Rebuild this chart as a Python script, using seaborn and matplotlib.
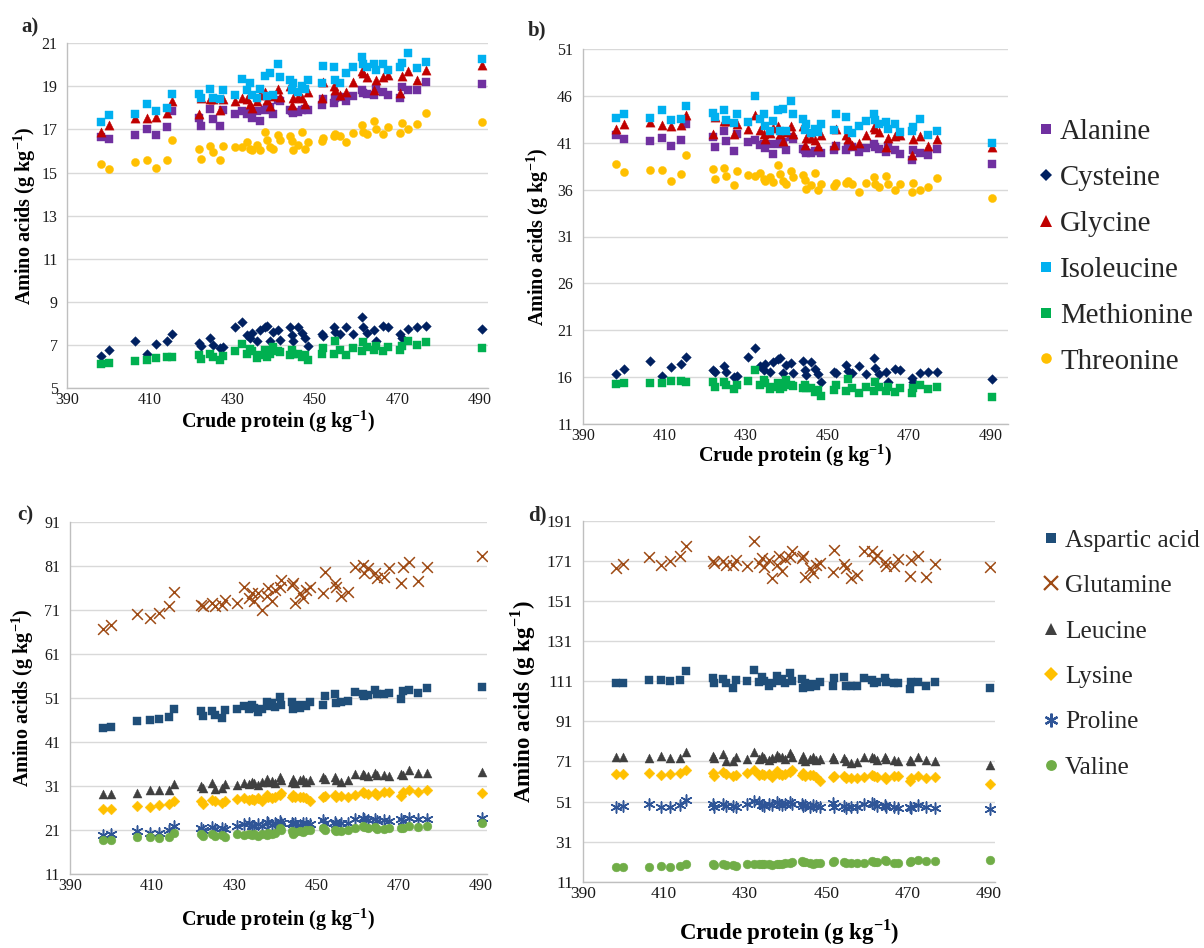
import matplotlib
matplotlib.use("Agg")
import matplotlib.pyplot as plt
from matplotlib.lines import Line2D
from matplotlib.font_manager import FontProperties
import seaborn as sns
import pandas as pd

# ---------------- data ----------------
crude_protein = [398.1, 400.0, 406.4, 409.4, 411.6, 414.1, 415.4, 422.0, 422.3, 424.6,
                 425.2, 427.1, 427.8, 430.6, 432.3, 433.5, 434.3, 434.7, 435.9, 436.7,
                 437.9, 438.3, 439.1, 439.9, 441.1, 441.5, 444.0, 444.4, 444.8, 446.0,
                 446.8, 447.6, 448.4, 451.6, 452.0, 454.5, 454.9, 456.1, 457.6, 459.3,
                 461.3, 461.7, 462.5, 464.4, 464.7, 466.6, 467.8, 470.6, 471.0, 472.6,
                 474.7, 476.9, 490.4]

# panel a (g/kg)
alanine_a = [16.65, 16.55, 16.75, 17.0, 16.75, 17.1, 17.85, 17.55, 17.15, 17.95,
             17.5, 17.15, 17.9, 17.7, 17.85, 17.7, 17.75, 17.55, 17.85, 17.4,
             17.9, 18.0, 18.05, 17.7, 18.35, 18.3, 17.9, 17.85, 17.75, 17.8,
             17.9, 17.95, 17.9, 18.15, 18.4, 18.25, 18.45, 18.5, 18.3, 18.55,
             18.85, 18.7, 18.65, 18.6, 18.9, 18.75, 18.6, 18.45, 18.95, 18.85,
             18.85, 19.2, 19.1]
cysteine_a = [6.5, 6.75, 7.2, 6.6, 7.05, 7.2, 7.5, 7.1, 6.95, 7.3,
              7.0, 6.85, 6.9, 7.85, 8.05, 7.45, 7.3, 7.55, 7.2, 7.7,
              7.85, 7.9, 7.2, 7.6, 7.7, 7.25, 7.85, 7.45, 7.2, 7.85,
              7.55, 7.3, 6.95, 7.5, 7.4, 7.85, 7.6, 7.5, 7.85, 7.5,
              8.3, 7.85, 7.55, 7.7, 7.2, 7.9, 7.85, 7.5, 7.3, 7.75,
              7.85, 7.9, 7.75]
glycine_a = [16.9, 17.2, 17.55, 17.55, 17.6, 17.75, 18.3, 17.7, 18.45, 18.4,
             18.4, 17.9, 18.4, 18.3, 18.45, 18.4, 18.2, 18.0, 18.3, 18.6,
             18.75, 18.35, 18.1, 18.55, 18.9, 18.5, 19.0, 18.15, 18.45, 18.5,
             18.45, 18.2, 18.75, 18.45, 19.2, 19.0, 18.85, 18.6, 18.75, 19.2,
             19.7, 19.6, 19.45, 18.85, 19.3, 19.45, 19.55, 18.7, 19.5, 19.7,
             19.3, 19.75, 20.0]
isoleucine_a = [17.35, 17.65, 17.7, 18.2, 17.85, 18.0, 18.65, 18.65, 18.45, 18.9,
                18.45, 18.4, 18.85, 18.6, 19.35, 18.85, 19.15, 18.6, 18.45, 18.9,
                19.5, 18.55, 19.6, 18.6, 20.05, 19.45, 19.3, 18.85, 19.15, 18.75,
                19.0, 18.9, 19.3, 19.15, 19.95, 19.9, 19.3, 19.15, 19.6, 19.9,
                20.35, 20.05, 19.9, 20.05, 19.75, 20.05, 19.75, 19.9, 20.1, 20.55,
                19.85, 20.15, 20.25]
methionine_a = [6.1, 6.15, 6.25, 6.3, 6.4, 6.45, 6.45, 6.55, 6.35, 6.6,
                6.45, 6.3, 6.5, 6.7, 7.05, 6.6, 6.8, 6.7, 6.4, 6.55,
                6.75, 6.45, 6.6, 6.9, 6.7, 6.65, 6.55, 6.75, 6.6, 6.6,
                6.45, 6.55, 6.3, 6.6, 6.85, 6.6, 7.2, 6.75, 6.55, 6.85,
                6.7, 7.15, 6.9, 6.75, 6.95, 6.7, 6.9, 6.75, 6.95, 7.2,
                7.0, 7.15, 6.85]
threonine_a = [15.4, 15.15, 15.5, 15.6, 15.2, 15.6, 16.5, 16.1, 15.65, 16.25,
               15.95, 15.6, 16.25, 16.2, 16.2, 16.4, 16.1, 16.05, 16.3, 16.05,
               16.9, 16.5, 16.2, 16.1, 16.75, 16.5, 16.7, 16.45, 16.05, 16.3,
               16.9, 16.1, 16.4, 16.45, 16.6, 16.7, 16.8, 16.7, 16.4, 16.85,
               17.2, 16.9, 16.8, 17.4, 17.0, 16.8, 17.1, 16.85, 17.3, 17.0,
               17.25, 17.75, 17.35]

# panel b (g/kg CP)
alanine_b = [41.8, 41.4, 41.2, 41.5, 40.7, 41.3, 43.0, 41.6, 40.6, 42.3,
             41.2, 40.1, 41.9, 41.1, 41.3, 40.8, 40.9, 40.4, 40.9, 39.8,
             40.9, 41.1, 41.1, 40.2, 41.6, 41.4, 40.3, 40.2, 39.9, 39.9,
             40.1, 40.1, 39.9, 40.2, 40.7, 40.2, 40.6, 40.6, 40.0, 40.4,
             40.9, 40.5, 40.3, 40.0, 40.7, 40.2, 39.8, 39.2, 40.2, 39.9,
             39.7, 40.3, 38.7]
cysteine_b = [16.3, 16.9, 17.7, 16.1, 17.1, 17.4, 18.1, 16.8, 16.5, 17.2,
              16.5, 16.0, 16.1, 18.2, 19.1, 17.2, 16.8, 17.4, 16.5, 17.6,
              17.9, 18.0, 16.4, 17.3, 17.5, 16.4, 17.7, 16.8, 16.2, 17.6,
              16.9, 16.3, 15.5, 16.6, 16.4, 17.3, 16.7, 16.4, 17.2, 16.3,
              18.0, 17.0, 16.3, 16.6, 15.5, 16.9, 16.8, 15.9, 15.5, 16.4,
              16.5, 16.6, 15.8]
glycine_b = [42.5, 43.0, 43.2, 42.9, 42.8, 42.9, 44.0, 41.9, 43.7, 43.3,
             43.3, 41.9, 43.0, 42.5, 44.0, 42.4, 41.9, 41.4, 42.0, 42.6,
             42.8, 41.9, 41.2, 42.2, 42.8, 41.9, 42.8, 40.8, 41.5, 41.5,
             41.3, 40.7, 41.8, 40.8, 42.5, 41.8, 41.4, 40.8, 41.0, 41.8,
             42.7, 42.5, 42.1, 40.6, 41.5, 41.7, 41.8, 39.7, 41.4, 41.7,
             40.7, 41.4, 40.5]
isoleucine_b = [43.6, 44.1, 43.6, 44.5, 43.4, 43.5, 44.9, 44.2, 43.7, 44.5,
                43.4, 43.1, 44.1, 43.2, 46.0, 43.5, 44.1, 42.8, 42.3, 43.3,
                44.5, 42.3, 44.6, 42.3, 45.5, 44.1, 43.5, 42.4, 43.0, 42.0,
                42.5, 42.2, 43.0, 42.4, 44.1, 43.8, 42.4, 42.0, 42.8, 43.3,
                44.1, 43.4, 43.0, 43.2, 42.5, 43.0, 42.2, 42.3, 42.7, 43.5,
                41.8, 42.3, 41.0]
methionine_b = [15.3, 15.4, 15.4, 15.4, 15.6, 15.6, 15.5, 15.5, 15.0, 15.5,
                15.2, 14.7, 15.2, 15.6, 16.8, 15.2, 15.7, 15.4, 14.7, 15.0,
                15.4, 14.7, 15.0, 15.7, 15.2, 15.1, 14.8, 15.2, 14.8, 14.8,
                14.4, 14.6, 14.0, 14.6, 15.2, 14.5, 15.8, 14.8, 14.3, 14.9,
                14.5, 15.5, 14.9, 14.5, 15.0, 14.4, 14.8, 14.3, 14.8, 15.2,
                14.7, 15.0, 13.9]
threonine_b = [38.7, 37.9, 38.1, 38.1, 36.9, 37.7, 39.7, 38.2, 37.1, 38.3,
               37.5, 36.5, 38.0, 37.6, 37.5, 37.8, 37.1, 36.9, 37.4, 36.8,
               38.6, 37.7, 36.9, 36.6, 38.0, 37.4, 37.6, 37.0, 36.1, 36.5,
               37.8, 36.0, 36.6, 36.4, 36.7, 36.7, 36.9, 36.6, 35.8, 36.7,
               37.3, 36.6, 36.3, 37.5, 36.6, 36.0, 36.6, 35.8, 36.7, 36.0,
               36.3, 37.2, 35.1]

# panel c (g/kg)
aspartic_c = [44.2, 44.5, 45.7, 46.1, 46.2, 46.7, 48.6, 48.0, 47.0, 48.0,
              47.2, 46.5, 48.2, 48.4, 49.1, 48.4, 49.5, 48.7, 47.8, 48.6,
              50.2, 49.1, 49.8, 49.0, 51.2, 49.5, 50.2, 48.4, 49.5, 48.7,
              49.5, 49.2, 50.0, 49.5, 51.4, 51.8, 49.8, 50.0, 50.3, 52.3,
              52.0, 51.4, 51.6, 52.9, 51.8, 52.0, 52.1, 50.8, 52.5, 52.9,
              52.1, 53.3, 53.4]
glutamine_c = [66.7, 67.7, 70.2, 69.2, 70.3, 71.8, 75.0, 72.2, 71.8, 72.6,
               71.8, 72.2, 73.3, 72.6, 76.3, 73.7, 74.8, 73.0, 74.8, 71.1,
               74.1, 76.0, 73.0, 75.6, 76.3, 77.8, 76.7, 77.1, 72.6, 74.8,
               73.7, 75.6, 76.3, 74.8, 79.7, 77.1, 76.3, 74.1, 75.2, 80.8,
               81.2, 79.3, 80.5, 79.3, 78.2, 78.6, 80.5, 77.1, 80.8, 82.0,
               77.5, 80.8, 83.3]
leucine_c = [29.2, 29.2, 29.5, 30.1, 30.0, 30.0, 31.4, 31.0, 30.6, 31.7,
             30.3, 30.5, 31.4, 31.2, 31.6, 31.4, 32.0, 31.6, 31.2, 31.8,
             32.5, 32.0, 32.2, 31.7, 33.1, 32.3, 32.0, 32.7, 31.6, 32.3,
             32.7, 32.0, 32.4, 33.1, 32.6, 33.1, 32.3, 32.0, 32.4, 33.7,
             33.8, 33.5, 33.2, 34.0, 33.5, 33.5, 33.2, 33.8, 33.6, 34.6,
             34.0, 34.0, 34.2]
lysine_c = [25.8, 25.8, 26.5, 26.2, 26.7, 27.0, 27.7, 27.5, 27.0, 27.9,
            27.5, 27.2, 27.5, 28.0, 28.2, 27.9, 28.0, 27.9, 28.2, 27.7,
            29.0, 28.4, 28.2, 28.5, 29.0, 29.4, 28.6, 29.0, 28.4, 28.6,
            28.6, 28.2, 27.5, 28.6, 28.8, 29.0, 28.5, 28.7, 28.6, 29.0,
            29.7, 29.4, 29.2, 29.4, 29.0, 29.7, 29.7, 28.8, 29.6, 30.1,
            29.7, 30.1, 29.5]
proline_c = [19.8, 20.0, 20.8, 20.3, 20.4, 21.0, 22.0, 21.5, 21.0, 21.7,
             21.2, 21.5, 21.3, 22.0, 22.3, 22.5, 22.0, 21.8, 22.3, 22.0,
             22.8, 22.5, 22.2, 22.5, 23.0, 22.6, 22.6, 22.3, 22.6, 22.2,
             22.6, 22.5, 22.3, 23.2, 22.5, 22.8, 22.4, 22.6, 22.7, 23.4,
             23.8, 23.5, 23.2, 23.4, 23.0, 23.2, 23.0, 23.4, 23.1, 23.8,
             23.5, 23.5, 23.8]
valine_c = [18.8, 18.8, 19.5, 19.5, 19.1, 19.5, 20.4, 20.0, 19.6, 20.0,
            19.7, 19.8, 19.5, 20.0, 19.8, 20.0, 19.9, 20.0, 19.7, 20.0,
            19.9, 20.4, 20.0, 20.3, 21.5, 20.9, 20.8, 20.0, 20.5, 20.8,
            20.5, 21.0, 20.9, 21.5, 21.0, 21.0, 20.8, 20.8, 21.1, 21.5,
            22.0, 21.6, 21.4, 21.7, 21.3, 21.3, 21.5, 21.5, 21.4, 22.0,
            21.7, 22.0, 22.5]

# panel d (g/kg CP)
aspartic_d = [110.0, 110.3, 111.5, 111.6, 111.3, 111.8, 116.0, 112.8, 110.3, 112.0,
              110.0, 107.9, 111.7, 111.4, 116.5, 110.7, 113.0, 111.0, 108.7, 110.3,
              113.7, 111.0, 112.4, 110.4, 115.1, 111.1, 112.1, 107.9, 110.3, 108.2,
              109.8, 108.9, 110.5, 108.6, 112.7, 113.0, 108.5, 108.6, 108.9, 112.9,
              111.7, 110.3, 110.6, 112.9, 110.5, 110.4, 110.4, 107.0, 110.5, 110.9,
              108.8, 110.8, 107.9]
glutamine_d = [167.6, 169.3, 172.8, 169.1, 170.8, 173.4, 178.5, 171.1, 170.0, 171.0,
               168.9, 169.0, 171.4, 168.6, 181.0, 170.0, 172.3, 167.9, 171.6, 162.8,
               169.2, 173.4, 166.2, 171.8, 173.0, 176.2, 172.7, 173.5, 163.2, 167.7,
               164.9, 168.9, 170.1, 165.6, 176.3, 169.6, 167.7, 162.4, 164.3, 175.9,
               176.0, 171.8, 174.0, 170.7, 168.3, 168.4, 172.1, 163.8, 171.5, 173.5,
               163.3, 169.4, 168.2]
leucine_d = [73.4, 73.0, 72.6, 73.5, 72.9, 72.5, 75.6, 73.5, 72.5, 74.7,
             71.3, 71.4, 73.4, 72.4, 75.5, 72.4, 73.7, 72.7, 71.6, 72.8,
             74.2, 73.0, 73.3, 72.1, 75.0, 73.2, 72.1, 73.6, 71.0, 72.4,
             73.2, 71.5, 72.3, 73.3, 72.1, 72.8, 71.0, 70.1, 70.8, 73.4,
             73.3, 72.6, 71.8, 73.2, 72.1, 71.8, 71.0, 71.8, 71.3, 73.2,
             71.6, 71.3, 69.0]
lysine_d = [64.8, 64.5, 65.2, 64.0, 64.9, 65.2, 66.7, 65.2, 63.9, 65.7,
            64.7, 63.7, 64.3, 65.0, 66.8, 64.4, 64.5, 64.2, 64.7, 63.4,
            66.2, 64.8, 64.2, 64.8, 65.7, 66.6, 64.4, 65.3, 63.8, 64.1,
            64.0, 63.0, 61.3, 63.3, 63.7, 63.8, 62.6, 62.9, 62.5, 63.1,
            64.4, 63.7, 63.1, 63.3, 62.4, 63.6, 63.5, 61.2, 62.8, 63.7,
            62.6, 63.1, 60.0]
proline_d = [48.4, 48.7, 49.9, 48.3, 48.3, 49.4, 51.7, 49.7, 48.4, 49.8,
             48.6, 49.0, 48.5, 49.8, 51.3, 50.6, 49.4, 48.8, 49.9, 49.1,
             50.8, 50.0, 49.2, 49.8, 50.8, 49.9, 49.6, 48.9, 49.5, 48.5,
             49.3, 49.0, 48.4, 50.1, 48.5, 48.9, 47.9, 48.2, 48.3, 49.6,
             50.3, 49.6, 48.9, 49.1, 48.2, 48.4, 47.9, 48.4, 47.7, 49.1,
             48.2, 48.0, 47.2]
valine_d = [18.2, 18.2, 18.5, 19.0, 18.5, 19.0, 19.8, 19.7, 19.5, 19.7,
            19.3, 19.4, 19.0, 19.7, 19.7, 19.8, 19.7, 19.6, 19.7, 19.5,
            19.8, 20.0, 19.7, 20.2, 20.5, 20.8, 21.5, 20.6, 21.0, 20.5,
            19.8, 20.2, 20.5, 21.0, 21.5, 20.6, 20.5, 20.5, 20.2, 20.5,
            21.5, 21.0, 20.8, 21.8, 21.2, 20.5, 20.5, 21.0, 21.3, 21.8,
            21.5, 21.5, 21.8]

names_top = ["Alanine", "Cysteine", "Glycine", "Isoleucine", "Methionine", "Threonine"]
names_bot = ["Aspartic acid", "Glutamine", "Leucine", "Lysine", "Proline", "Valine"]
x_ticks = [390, 410, 430, 450, 470, 490]

# ---------------- styling ----------------
sns.set_theme(style="white")
SERIF = "Liberation Serif"
plt.rcParams["font.family"] = [SERIF, "DejaVu Serif"]
plt.rcParams["mathtext.fontset"] = "custom"
plt.rcParams["mathtext.rm"] = SERIF
plt.rcParams["mathtext.bf"] = SERIF + ":bold"

STY = {
    "Alanine": ("s", "#7030A0", 32, 0.0),
    "Cysteine": ("D", "#002060", 24, 0.0),
    "Glycine": ("^", "#C00000", 44, 0.0),
    "Isoleucine": ("s", "#00B0F0", 32, 0.0),
    "Methionine": ("s", "#00B050", 32, 0.0),
    "Threonine": ("o", "#FFC000", 34, 0.0),
    "Aspartic acid": ("s", "#1F4E79", 30, 0.0),
    "Glutamine": ("x", "#9E4A14", 60, 1.1),
    "Leucine": ("^", "#404040", 42, 0.0),
    "Lysine": ("D", "#FFC000", 30, 0.0),
    "Proline": ((6, 2, 0), "#2F5597", 64, 1.1),
    "Valine": ("o", "#70AD47", 40, 0.0),
}

W, H = 1204, 948
fig = plt.figure(figsize=(W / 100, H / 100), dpi=100)

def add_ax(l, r, t, b):
    return fig.add_axes([l / W, (H - b) / H, (r - l) / W, (b - t) / H])

ylab = r"Amino acids (g kg$^{\mathbf{-1}}$)"
xlab = r"Crude protein (g kg$^{\mathbf{-1}}$)"

panels = [
    dict(box=(67.3, 488.3, 43.3, 388.0), xlim=(390, 492.0), ylim=(5, 21), yticks=list(range(5, 22, 2)),
         names=names_top, vals=[alanine_a, cysteine_a, glycine_a, isoleucine_a, methionine_a, threonine_a],
         tag="a)", tagpos=(30, 27), lfs=14.5, tfs=11.5, xl=-0.057, yl=-0.07),
    dict(box=(582.7, 1008.0, 49.0, 424.0), xlim=(390, 494.2), ylim=(11, 51), yticks=list(range(11, 52, 5)),
         names=names_top, vals=[alanine_b, cysteine_b, glycine_b, isoleucine_b, methionine_b, threonine_b],
         tag="b)", tagpos=(537, 30), lfs=14.5, tfs=11.5, xl=-0.048, yl=-0.075),
    dict(box=(70.0, 486.7, 522.0, 874.0), xlim=(390, 491.5), ylim=(11, 91), yticks=list(range(11, 92, 10)),
         names=names_bot, vals=[aspartic_c, glutamine_c, leucine_c, lysine_c, proline_c, valine_c],
         tag="c)", tagpos=(25, 515), lfs=14.5, tfs=11.5, xl=-0.092, yl=-0.081),
    dict(box=(582.7, 995.0, 521.0, 881.7), xlim=(390, 491.6), ylim=(11, 191), yticks=list(range(11, 192, 20)),
         names=names_bot, vals=[aspartic_d, glutamine_d, leucine_d, lysine_d, proline_d, valine_d],
         tag="d)", tagpos=(537, 515), lfs=16.5, tfs=12.5, xl=-0.1, yl=-0.108),
]

for p in panels:
    ax = add_ax(*p["box"])
    for name, vals in zip(p["names"], p["vals"]):
        m, c, s, lw = STY[name]
        df = pd.DataFrame({"cp": crude_protein, "aa": vals})
        if lw > 0:
            sns.scatterplot(data=df, x="cp", y="aa", ax=ax, marker=m, color=c, s=s,
                            linewidth=lw, legend=False, zorder=3)
        else:
            sns.scatterplot(data=df, x="cp", y="aa", ax=ax, marker=m, color=c, s=s,
                            edgecolor=c, linewidth=0.3, legend=False, zorder=3)
    ax.set_xlim(*p["xlim"])
    ax.set_ylim(*p["ylim"])
    ax.set_xticks(x_ticks)
    ax.set_yticks(p["yticks"])
    ax.set_axisbelow(True)
    ax.yaxis.grid(True, color="#D9D9D9", linewidth=1.0)
    ax.xaxis.grid(False)
    for side in ("top", "right"):
        ax.spines[side].set_visible(False)
    for side in ("left", "bottom"):
        ax.spines[side].set_color("#BFBFBF")
        ax.spines[side].set_linewidth(1.0)
    ax.tick_params(axis="both", length=0, labelsize=p["tfs"], colors="#1a1a1a")
    for lab in ax.get_xticklabels() + ax.get_yticklabels():
        lab.set_family(SERIF)
    ax.tick_params(axis="y", pad=7)
    ax.tick_params(axis="x", pad=3)
    ax.set_xlabel(xlab, fontsize=p["lfs"], fontweight="bold", color="black", family=SERIF)
    ax.set_ylabel(ylab, fontsize=p["lfs"], fontweight="bold", color="black", family=SERIF)
    ax.xaxis.set_label_coords(0.5, p["xl"])
    ax.yaxis.set_label_coords(p["yl"], 0.5)
    fig.text(p["tagpos"][0] / W, 1 - p["tagpos"][1] / H, p["tag"], fontsize=15,
             fontweight="bold", ha="center", va="center", family=SERIF)

def handles_for(names, ms_scale=1.0):
    hs = []
    for n in names:
        m, c, s, lw = STY[n]
        ms = (s ** 0.5) * 1.3 * ms_scale
        if lw > 0:
            hs.append(Line2D([], [], linestyle="", marker=m, color=c, markersize=ms,
                             markeredgewidth=1.6))
        else:
            hs.append(Line2D([], [], linestyle="", marker=m, color=c, markersize=ms,
                             markeredgewidth=0))
    return hs

fig.legend(handles_for(names_top), names_top, loc="upper left",
           bbox_to_anchor=(1038.3 / W, 1 - 119.0 / H), frameon=False,
           prop=FontProperties(family=SERIF, size=20.8),
           borderpad=0, borderaxespad=0, handlelength=0.55, handletextpad=0.2,
           labelspacing=0.68)
fig.legend(handles_for(names_bot, 0.95), names_bot, loc="upper left",
           bbox_to_anchor=(1043.4 / W, 1 - 529.0 / H), frameon=False,
           prop=FontProperties(family=SERIF, size=18.3),
           borderpad=0, borderaxespad=0, handlelength=0.6, handletextpad=0.25,
           labelspacing=0.89)

fig.savefig("out.png", dpi=100)
